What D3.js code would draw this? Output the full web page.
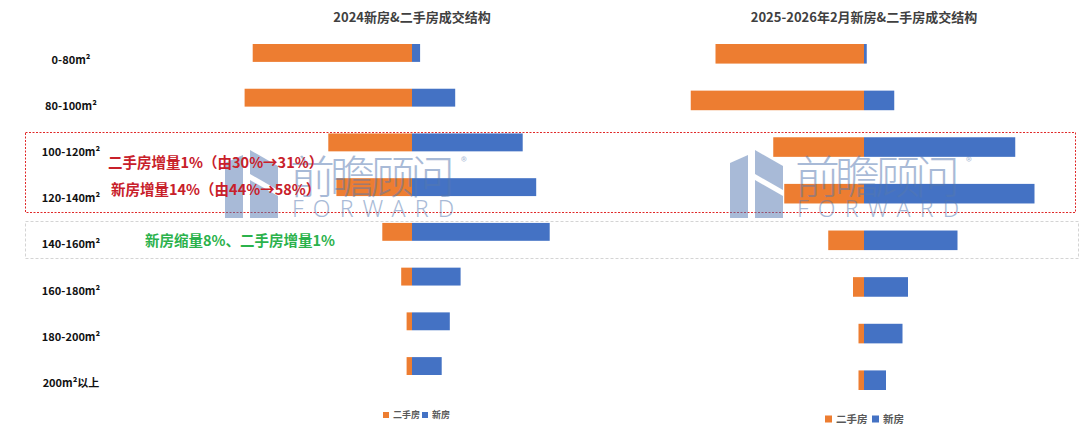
<!DOCTYPE html>
<html>
<head>
<meta charset="utf-8">
<script src="https://cdn.jsdelivr.net/npm/d3@7"></script>
<style>
  body { margin: 0; background: #fff; }
  svg { display: block; font-family: "Noto Sans CJK SC", "Noto Sans", sans-serif; }
</style>
</head>
<body>
<div class="container"></div>
<script>
var categories = ['0-80', '80-100', '100-120', '120-140', '140-160', '160-180', '180-200', '200+'];
var catLabels = ['0-80m²', '80-100m²', '100-120m²', '120-140m²', '140-160m²', '160-180m²', '180-200m²', '200m²以上'];
var titles = ['2024新房&二手房成交结构', '2025-2026年2月新房&二手房成交结构'];
var seriesNames = ['二手房', '新房'];

// share of deals (%) per size band
var used2024 = [29.5, 31, 15.5, 14, 5.5, 2, 1, 1];
var new2024 = [1.5, 8, 20.5, 23, 25.5, 9, 7, 5.5];
var used2025 = [27, 31.5, 16.5, 14.5, 6.5, 2, 1, 1];
var new2025 = [0.5, 5.5, 27.5, 31, 17, 8, 7, 4];

var notes = ['二手房增量1%（由30%→31%）', '新房增量14%（由44%→58%）', '新房缩量8%、二手房增量1%'];

var WIDTH = 1080, HEIGHT = 438;
var ORANGE = '#ed7d31', BLUE = '#4472c4';

var svg = d3.select('.container').append('svg')
  .attr('width', WIDTH)
  .attr('height', HEIGHT);

var makeRows = function(used, fresh) {
  return categories.map(function(c, i) { return {cat: c, used: used[i], fresh: fresh[i]}; });
};

var charts = [
  {title: titles[0], rows: makeRows(used2024, new2024), center: 412, k: 5.4, y: [44, 375], pad: 0.6,
   legend: {x: 383, y: 415, fs: 9, sq: 6, off: 39}},
  {title: titles[1], rows: makeRows(used2025, new2025), center: 864, k: 5.5, y: [44, 390], pad: 0.58,
   legend: {x: 825, y: 419, fs: 10.5, sq: 7, off: 47}}
];

var drawChart = function(c) {
  var x = d3.scaleLinear()
    .domain([-35, 35])
    .range([c.center - 35 * c.k, c.center + 35 * c.k]);
  var y = d3.scaleBand()
    .domain(categories)
    .range(c.y)
    .paddingInner(c.pad)
    .paddingOuter(0);

  var g = svg.append('g');

  g.append('text')
    .attr('x', c.center)
    .attr('y', 22)
    .attr('text-anchor', 'middle')
    .attr('font-size', 13)
    .attr('font-weight', 'bold')
    .attr('fill', '#404040')
    .text(c.title);

  g.selectAll('rect.used').data(c.rows)
    .enter().append('rect')
    .attr('class', 'used')
    .attr('x', function(d) { return x(-d.used); })
    .attr('y', function(d) { return y(d.cat); })
    .attr('width', function(d) { return x(0) - x(-d.used); })
    .attr('height', y.bandwidth())
    .attr('fill', ORANGE);

  g.selectAll('rect.fresh').data(c.rows)
    .enter().append('rect')
    .attr('class', 'fresh')
    .attr('x', x(0))
    .attr('y', function(d) { return y(d.cat); })
    .attr('width', function(d) { return x(d.fresh) - x(0); })
    .attr('height', y.bandwidth())
    .attr('fill', BLUE);

  // legend
  var L = c.legend;
  var item = g.append('g')
    .attr('transform', 'translate(' + L.x + ',' + L.y + ')')
    .attr('font-size', L.fs).attr('font-weight', 'bold').attr('fill', '#595959');
  item.append('rect').attr('x', 0).attr('y', -L.sq / 2).attr('width', L.sq).attr('height', L.sq).attr('fill', ORANGE);
  item.append('text').attr('x', L.sq + 4).attr('dy', '0.35em').text(seriesNames[0]);
  item.append('rect').attr('x', L.off).attr('y', -L.sq / 2).attr('width', L.sq).attr('height', L.sq).attr('fill', BLUE);
  item.append('text').attr('x', L.off + L.sq + 4).attr('dy', '0.35em').text(seriesNames[1]);
};

// category labels (left side only)
var labelY = d3.scalePoint().domain(categories).range([60, 383]);
svg.append('g').selectAll('text').data(categories)
  .enter().append('text')
  .attr('x', 71)
  .attr('y', function(d) { return labelY(d); })
  .attr('dy', '0.35em')
  .attr('text-anchor', 'middle')
  .attr('font-size', 11)
  .attr('font-weight', 'bold')
  .attr('fill', '#111')
  .text(function(d, i) { return catLabels[i]; });

// highlight boxes
svg.append('rect')
  .attr('x', 25.5).attr('y', 132.5).attr('width', 1050).attr('height', 80)
  .attr('fill', 'none').attr('stroke', '#e02828').attr('stroke-width', 1)
  .attr('stroke-dasharray', '2,1.5');
svg.append('rect')
  .attr('x', 25.5).attr('y', 221.5).attr('width', 1053).attr('height', 37)
  .attr('fill', 'none').attr('stroke', '#d4d4d4').attr('stroke-width', 1)
  .attr('stroke-dasharray', '3,2');

charts.forEach(function(c) { drawChart(c); });

// watermark
var drawMark = function(x0, y0) {
  var m = svg.append('g')
    .attr('transform', 'translate(' + x0 + ',' + y0 + ')')
    .attr('fill', '#5478b0')
    .attr('opacity', 0.5);
  m.append('path').attr('d', 'M0,13 L18,5 L18,68 L0,68 Z');
  m.append('path').attr('d', 'M25,0 L53,16 L53,40 L25,24 Z');
  m.append('path').attr('d', 'M25,30 L53,46 L53,68 L25,68 Z');
  m.append('text').attr('x', 65).attr('y', 44).attr('font-size', 45)
    .attr('font-family', 'Noto Sans CJK SC').attr('font-weight', 300)
    .attr('textLength', 165).text('前瞻顾问');
  m.append('text').attr('x', 67).attr('y', 67).attr('font-size', 23)
    .attr('font-family', 'Noto Sans').attr('font-weight', 300)
    .attr('textLength', 162).attr('lengthAdjust', 'spacing').text('FORWARD');
  m.append('text').attr('x', 236).attr('y', 16).attr('font-size', 12).text('®');
};
drawMark(225, 150);
drawMark(730, 150);

// annotations
var ann = svg.append('g').attr('font-size', 14.5).attr('font-weight', 'bold');
ann.append('text').attr('x', 108).attr('y', 163).attr('dy', '0.35em').attr('fill', '#c8202a').text(notes[0]);
ann.append('text').attr('x', 111).attr('y', 190).attr('dy', '0.35em').attr('fill', '#c8202a').text(notes[1]);
ann.append('text').attr('x', 145).attr('y', 241).attr('dy', '0.35em').attr('fill', '#2bb24c').text(notes[2]);
</script>
</body>
</html>
